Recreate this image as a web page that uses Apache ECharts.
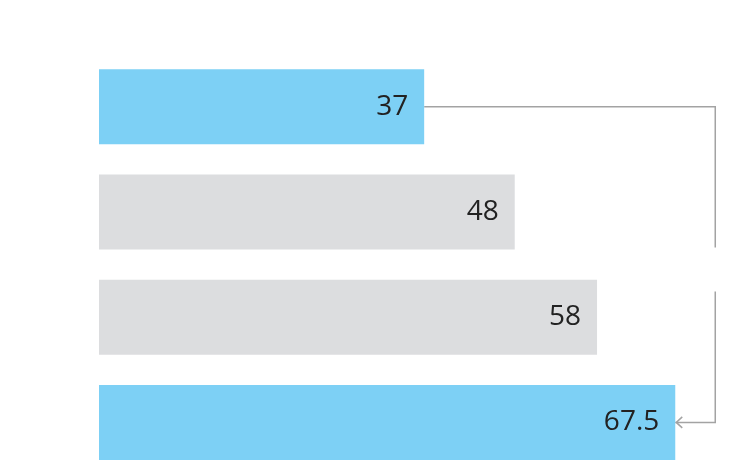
<!DOCTYPE html>
<html>
<head>
<meta charset="utf-8">
<script src="https://cdn.jsdelivr.net/npm/echarts@6/dist/echarts.min.js"></script>
<style>html,body{margin:0;padding:0;background:#fff}#c{width:751px;height:462px}</style>
</head>
<body>
<div id="c"></div>
<script>
const categories = ['A', 'B', 'C', 'D'];
const values = [37, 48, 58, 67.5];
const highlighted = [true, false, false, true];
const connectorFrom = 0;
const connectorTo = 3;

const BLUE = '#7dd0f5';
const GRAY = '#dcdddf';

const chart = echarts.init(document.getElementById('c'), null, {renderer: 'canvas'});

chart.setOption({
  animation: false,
  grid: {left: 99, width: 638, top: 54, height: 421, containLabel: false, outerBoundsMode: 'none'},
  xAxis: {
    type: 'value', min: -2.5, max: 75, startValue: -2.5,
    show: false, splitLine: {show: false}
  },
  yAxis: {
    type: 'category', data: categories, inverse: true, show: false
  },
  series: [
    {
      type: 'bar',
      data: values.map((v, i) => ({value: v, itemStyle: {color: highlighted[i] ? BLUE : GRAY}})),
      barWidth: 75,
      label: {
        show: true, position: 'insideRight', distance: 16,
        fontFamily: 'Open Sans', fontSize: 28, color: '#222',
        formatter: p => String(p.value)
      }
    },
    {
      type: 'custom',
      coordinateSystem: 'cartesian2d',
      clip: false,
      silent: true,
      data: [[values[connectorFrom], connectorFrom, values[connectorTo], connectorTo]],
      renderItem: function (params, api) {
        const a = api.coord([api.value(0), api.value(1)]);
        const b = api.coord([api.value(2), api.value(3)]);
        const xr = Math.max(a[0], b[0]) + 40;
        const mid = (a[1] + b[1]) / 2 + 5;
        const gap = 22;
        const st = {stroke: '#a3a3a3', lineWidth: 1.5, fill: null};
        return {
          type: 'group',
          children: [
            {type: 'polyline', shape: {points: [[a[0], a[1]], [xr, a[1]], [xr, mid - gap]]}, style: st},
            {type: 'polyline', shape: {points: [[xr, mid + gap], [xr, b[1]], [b[0], b[1]]]}, style: st},
            {type: 'polyline', shape: {points: [[b[0] + 7, b[1] - 5.5], [b[0] + 1, b[1]], [b[0] + 7, b[1] + 5.5]]}, style: st}
          ]
        };
      }
    }
  ]
});
</script>
</body>
</html>
